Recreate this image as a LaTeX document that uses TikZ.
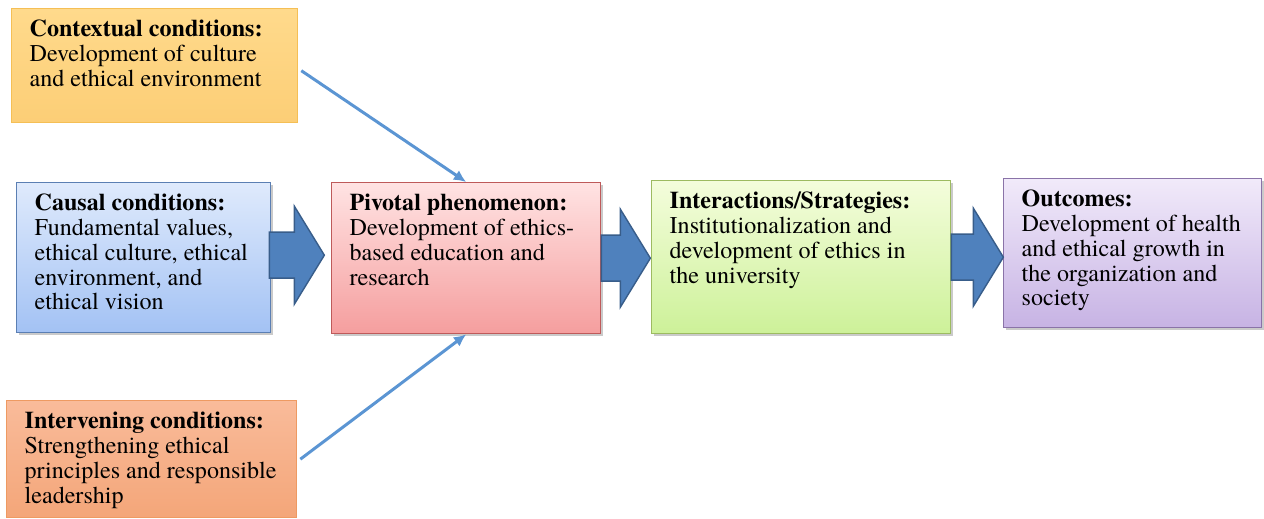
\documentclass[tikz,border=0pt]{standalone}
\usepackage{fontspec}
\setmainfont{TeX Gyre Termes}
\usetikzlibrary{arrows.meta,shadows}

\definecolor{ctxtop}{HTML}{FFDA8C}  \definecolor{ctxbot}{HTML}{FCCE76}  \definecolor{ctxline}{HTML}{F5BF55}
\definecolor{cautop}{HTML}{DFEAFC}  \definecolor{caubot}{HTML}{A3C2F4}  \definecolor{cauline}{HTML}{5B7FB3}
\definecolor{pivtop}{HTML}{FFE3E3}  \definecolor{pivbot}{HTML}{F59E9E}  \definecolor{pivline}{HTML}{BE5A5A}
\definecolor{isttop}{HTML}{F4FDDC}  \definecolor{istbot}{HTML}{CDF199}  \definecolor{istline}{HTML}{9DBB61}
\definecolor{outtop}{HTML}{F1EAFA}  \definecolor{outbot}{HTML}{C7B3E4}  \definecolor{outline}{HTML}{8A73A8}
\definecolor{ivntop}{HTML}{F9BB9A}  \definecolor{ivnbot}{HTML}{F4A679}  \definecolor{ivnline}{HTML}{EE9A62}
\definecolor{arrowblue}{HTML}{4F81BD}
\definecolor{arrowline}{HTML}{385D8A}
\definecolor{thinblue}{HTML}{5B95D3}

% text block pinned to the top of a box of fixed size
\newcommand{\boxtext}[3]{\parbox[t][#1][t]{#2}{\begin{tabular}[t]{@{}l@{}}#3\end{tabular}}}

\tikzset{pics/bigarrow/.style={code={
  \draw[fill=arrowblue,draw=arrowline,line width=0.8pt]
    (0,-23) -- ({#1-30},-23) -- ({#1-30},-49) -- (#1,0) -- ({#1-30},49) -- ({#1-30},23) -- (0,23) -- cycle;}}}

\begin{document}
\begin{tikzpicture}[x=0.02cm,y=-0.02cm,>={Latex[length=7pt,width=6.5pt]},
    box/.style={anchor=north west,inner xsep=0.36cm,inner ysep=0.2cm,line width=0.8pt,
      font=\fontsize{13.7}{14.2}\selectfont},
    boxshadow/.style={drop shadow={shadow xshift=1.5pt,shadow yshift=-1.5pt,opacity=0.35,fill=black!60}},
    thinarrow/.style={->,draw=thinblue,fill=thinblue,line width=1.7pt}]
\useasboundingbox (0,0) rectangle (1264,518);

\node[box,draw=ctxline,top color=ctxtop,bottom color=ctxbot] (ctx) at (11,8)
  {\boxtext{1.88cm}{5cm}{\textbf{Contextual conditions:}\\ Development of culture\\ and ethical environment}};
\node[box,boxshadow,draw=cauline,top color=cautop,bottom color=caubot] (cau) at (16,182)
  {\boxtext{2.6cm}{4.36cm}{\textbf{Causal conditions:}\\ Fundamental values,\\ ethical culture, ethical\\ environment, and\\ ethical vision}};
\node[box,boxshadow,draw=pivline,top color=pivtop,bottom color=pivbot] (piv) at (331,182)
  {\boxtext{2.62cm}{4.66cm}{\textbf{Pivotal phenomenon:}\\ Development of ethics-\\ based education and\\ research}};
\node[box,boxshadow,draw=istline,top color=isttop,bottom color=istbot] (ist) at (651,180)
  {\boxtext{2.66cm}{5.26cm}{\textbf{Interactions/Strategies:}\\ Institutionalization and\\ development of ethics in\\ the university}};
\node[box,boxshadow,draw=outline,top color=outtop,bottom color=outbot] (out) at (1003,178)
  {\boxtext{2.58cm}{4.44cm}{\textbf{Outcomes:}\\ Development of health\\ and ethical growth in\\ the organization and\\ society}};
\node[box,draw=ivnline,top color=ivntop,bottom color=ivnbot] (ivn) at (6,400)
  {\boxtext{1.94cm}{5.08cm}{\textbf{Intervening conditions:}\\ Strengthening ethical\\ principles and responsible\\ leadership}};

% block arrows along the main line
\pic at ([xshift=-0.04cm,yshift=0.05cm]cau.east) {bigarrow=55};
\pic at (piv.east) {bigarrow=49};
\pic at (ist.east) {bigarrow=52};

% context and intervening conditions feed the phenomenon
\draw[thinarrow] ([xshift=0.06cm,yshift=-0.1cm]ctx.east) -- (piv.north);
\draw[thinarrow] ([xshift=0.06cm]ivn.east) -- (piv.south);
\end{tikzpicture}
\end{document}
